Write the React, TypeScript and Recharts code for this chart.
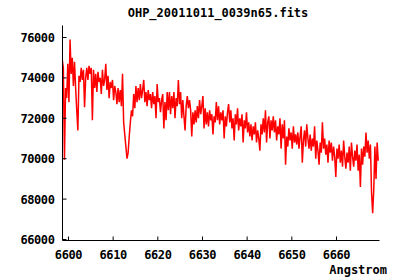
import * as React from 'react';
import { LineChart, Line, XAxis, YAxis } from 'recharts';

// wavelength grid (FITS style: start + step)
const CRVAL1 = 6598.6;
const CDELT1 = 0.25;

const FLUX = [
  74900, 74500, 69950, 73500, 73000, 74700, 72800, 75900, 74200, 75000,
  73600, 74800, 73500, 72400, 71400, 74100, 73800, 74500, 73900, 74400,
  72550, 74000, 74500, 73900, 74600, 74200, 74500, 71900, 74400, 73500,
  74200, 73300, 74300, 73800, 74000, 73200, 74400, 73600, 73900, 74700,
  73400, 74100, 73000, 73800, 73500, 73900, 72900, 73600, 73300, 72700,
  73500, 72800, 73400, 72600, 74200, 71800, 71200, 70600, 70000, 70300,
  71100, 71800, 72400, 72100, 73200, 72500, 73600, 72800, 73500, 72900,
  73700, 73000, 73400, 73900, 72800, 73300, 72600, 73400, 72900, 73200,
  72500, 73300, 72700, 73100, 72000, 73700, 72800, 73000, 72300, 72900,
  73200, 71500, 72800, 71900, 73300, 72400, 73300, 72200, 73100, 72500,
  73300, 72000, 73000, 72600, 73900, 72700, 73300, 72000, 72900, 72100,
  71400, 72600, 73100, 72500, 72900, 72400, 71100, 72300, 71700, 72400,
  71800, 72600, 72000, 72900, 72200, 72600, 73100, 71500, 72500, 71700,
  72300, 71600, 72400, 71900, 72200, 71200, 72100, 71800, 72800, 71900,
  72600, 71700, 72300, 71900, 72400, 71000, 72100, 71600, 72300, 72700,
  71800, 72400, 71500, 72000, 70900, 72200, 71700, 72500, 71400, 72000,
  71600, 72200, 70800, 71900, 71500, 72300, 71300, 71800, 71100, 71700,
  70900, 71600, 71200, 71800, 70800, 71400, 71000, 70400, 71700, 71200,
  72000, 71300, 72400, 70800, 71800, 72100, 71000, 71900, 71400, 72100,
  71300, 71900, 70900, 71600, 71200, 72000, 70500, 71700, 71000, 71900,
  69700, 71100, 70600, 71500, 70900, 71300, 70500, 71600, 70800, 71200,
  70700, 71300, 70500, 71100, 71600, 69800, 70900, 71400, 70600, 71700,
  71000, 70500, 71200, 70400, 71000, 70600, 71600, 70000, 70900, 70400,
  69700, 70800, 70300, 71800, 70500, 71000, 70200, 70700, 69800, 70900,
  70300, 70800, 69900, 70600, 70100, 69100, 70500, 70000, 70700, 69800,
  70400, 69600, 70900, 70100, 69500, 70300, 69800, 70600, 69400, 70800,
  70100, 69600, 70400, 69900, 70700, 69400, 70200, 68600, 70500, 69700,
  70600, 70100, 71300, 70300, 70900, 70000, 70700, 68300, 67300, 68500,
  70600, 69000, 70800, 69900,
];

const X_TICKS = [6600, 6610, 6620, 6630, 6640, 6650, 6660];
const Y_TICKS = [66000, 68000, 70000, 72000, 74000, 76000];

const data = FLUX.map((f, i) => ({ w: CRVAL1 + i * CDELT1, f }));

const FONT = '"DejaVu Sans Mono", monospace';
const TICK_LEN = 4;

const BottomTick = (props: any) => {
  const { x, y, payload } = props;
  return (
    <g>
      <line x1={x} x2={x} y1={y} y2={y - TICK_LEN} stroke="#000" />
      <text x={x} y={y + 18} textAnchor="middle" fontFamily={FONT} fontWeight="bold" fontSize={12} fill="#000" letterSpacing={-0.4}>
        {payload.value}
      </text>
    </g>
  );
};

const TopTick = (props: any) => {
  const { x, y } = props;
  return <line x1={x} x2={x} y1={y} y2={y + TICK_LEN} stroke="#000" />;
};

const LeftTick = (props: any) => {
  const { x, y, payload } = props;
  return (
    <g>
      <line x1={x} x2={x + TICK_LEN} y1={y} y2={y} stroke="#000" />
      <text x={x - 8} y={y + 4.5} textAnchor="end" fontFamily={FONT} fontWeight="bold" fontSize={12} fill="#000" letterSpacing={-0.4}>
        {payload.value}
      </text>
    </g>
  );
};

const RightTick = (props: any) => {
  const { x, y } = props;
  return <line x1={x} x2={x - TICK_LEN} y1={y} y2={y} stroke="#000" />;
};

export default function App() {
  return (
    <div style={{ position: 'relative', width: 400, height: 280, background: '#fff' }}>
      <style>{`body{margin:0}`}</style>
      <LineChart width={400} height={280} data={data} margin={{ top: 25.5, right: 20.5, bottom: 0, left: 0 }}>
        <XAxis
          dataKey="w"
          type="number"
          domain={[6598.66, 6669.63]}
          ticks={X_TICKS}
          allowDataOverflow
          height={39.5}
          axisLine={{ stroke: '#000' }}
          tickLine={false}
          tickSize={0}
          tickMargin={0}
          tick={<BottomTick />}
          interval={0}
        />
        <XAxis
          xAxisId="top"
          dataKey="w"
          type="number"
          orientation="top"
          domain={[6598.66, 6669.63]}
          ticks={X_TICKS}
          allowDataOverflow
          height={0}
          axisLine={{ stroke: '#000' }}
          tickLine={false}
          tickSize={0}
          tickMargin={0}
          tick={<TopTick />}
          interval={0}
        />
        <YAxis
          type="number"
          domain={[65950, 76594]}
          ticks={Y_TICKS}
          allowDataOverflow
          width={62.5}
          axisLine={{ stroke: '#000' }}
          tickLine={false}
          tickSize={0}
          tickMargin={0}
          tick={<LeftTick />}
          interval={0}
        />
        <YAxis
          yAxisId="right"
          type="number"
          orientation="right"
          domain={[65950, 76594]}
          ticks={Y_TICKS}
          allowDataOverflow
          width={0}
          axisLine={{ stroke: '#000' }}
          tickLine={false}
          tickSize={0}
          tickMargin={0}
          tick={<RightTick />}
          interval={0}
        />
        <Line
          dataKey="f"
          type="linear"
          stroke="#ff0000"
          strokeWidth={1.5}
          dot={false}
          isAnimationActive={false}
        />
      </LineChart>
      <div
        style={{
          position: 'absolute', left: 0, top: 5, width: 436, textAlign: 'center',
          fontFamily: FONT, fontWeight: 'bold', fontSize: 12, letterSpacing: 0, color: '#000', lineHeight: '16px',
        }}
      >
        OHP_20011011_0039n65.fits
      </div>
      <div
        style={{
          position: 'absolute', right: 13, top: 262, fontFamily: FONT, fontWeight: 'bold',
          fontSize: 12, color: '#000', lineHeight: '16px',
        }}
      >
        Angstrom
      </div>
    </div>
  );
}
